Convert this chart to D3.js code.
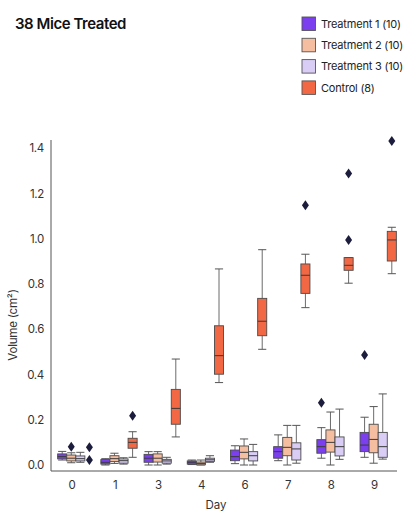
<!DOCTYPE html>
<html>
<head>
<meta charset="utf-8">
<script src="https://cdn.jsdelivr.net/npm/d3@7"></script>
<style>
  html, body { margin: 0; padding: 0; background: #fff; }
  svg { display: block; font-family: Inter, "Noto Sans", sans-serif; }
</style>
</head>
<body>
<svg id="chart" width="417" height="529"></svg>
<script>
// --- data (box stats per day: [whiskerLow, q1, median, q3, whiskerHigh]) ---
const days = ["0", "1", "3", "4", "6", "7", "8", "9"];
const seriesNames = ["Treatment 1 (10)", "Treatment 2 (10)", "Treatment 3 (10)", "Control (8)"];
const seriesColors = ["#7b3fef", "#f6bea0", "#d9cdf5", "#f26744"];
const yTicks = [0, 0.2, 0.4, 0.6, 0.8, 1.0, 1.2, 1.4];

const treatment1 = [
  [0.022, 0.027, 0.037, 0.049, 0.060],
  [0.000, 0.004, 0.012, 0.024, 0.028],
  [0.000, 0.012, 0.030, 0.047, 0.059],
  [0.002, 0.004, 0.012, 0.018, 0.022],
  [0.006, 0.019, 0.037, 0.066, 0.085],
  [0.019, 0.030, 0.059, 0.081, 0.133],
  [0.030, 0.052, 0.081, 0.112, 0.165],
  [0.034, 0.059, 0.088, 0.144, 0.211]
];
const treatment2 = [
  [0.010, 0.018, 0.030, 0.044, 0.054],
  [0.007, 0.015, 0.028, 0.041, 0.052],
  [0.000, 0.013, 0.030, 0.049, 0.059],
  [0.000, 0.001, 0.007, 0.013, 0.022],
  [0.000, 0.027, 0.056, 0.084, 0.115],
  [0.000, 0.041, 0.078, 0.122, 0.175],
  [0.000, 0.057, 0.100, 0.155, 0.234],
  [0.008, 0.054, 0.113, 0.180, 0.258]
];
const treatment3 = [
  [0.012, 0.018, 0.028, 0.040, 0.056],
  [0.004, 0.008, 0.019, 0.027, 0.032],
  [0.004, 0.008, 0.018, 0.025, 0.034],
  [0.012, 0.016, 0.023, 0.030, 0.041],
  [0.000, 0.018, 0.041, 0.059, 0.091],
  [0.008, 0.022, 0.071, 0.098, 0.175],
  [0.025, 0.040, 0.081, 0.124, 0.247],
  [0.026, 0.034, 0.081, 0.144, 0.314]
];
const control = [
  null,
  [0.034, 0.074, 0.100, 0.118, 0.147],
  [0.124, 0.180, 0.250, 0.334, 0.468],
  [0.364, 0.401, 0.483, 0.615, 0.866],
  [0.511, 0.571, 0.635, 0.736, 0.951],
  [0.695, 0.758, 0.838, 0.888, 0.931],
  [0.803, 0.860, 0.882, 0.916, 0.916],
  [0.845, 0.901, 0.994, 1.032, 1.050]
];

// outliers per series per day
const outliers1 = [[], [], [], [], [], [], [0.275], [0.486]];
const outliers2 = [[0.081], [], [], [], [], [], [], []];
const outliers3 = [[], [], [], [], [], [], [], []];
const outliersC = [[0.078, 0.022], [0.218], [], [], [], [1.147], [1.288, 0.994], [1.431]];

const stats = [treatment1, treatment2, treatment3, control];
const outs = [outliers1, outliers2, outliers3, outliersC];

// --- chart ---
const svg = d3.select("#chart");

const x = d3.scaleBand().domain(days).range([54.2, 399.8]).padding(0);
const x1 = d3.scaleBand().domain(seriesNames)
  .range([x.bandwidth() * 0.08, x.bandwidth() * 0.92]);
const y = d3.scaleLinear().domain([-0.0265, 1.4355]).range([471, 140]);

const boxes = [];
const points = [];
seriesNames.forEach((name, si) => {
  days.forEach((day, di) => {
    const s = stats[si][di];
    if (s) boxes.push({ name, day, color: seriesColors[si], lo: s[0], q1: s[1], med: s[2], q3: s[3], hi: s[4] });
    outs[si][di].forEach(v => points.push({ name, day, v }));
  });
});

const bw = x1.bandwidth();
const cx = d => x(d.day) + x1(d.name) + bw / 2;

const g = svg.append("g");
const box = g.selectAll("g.box").data(boxes).join("g").attr("class", "box");

// whiskers
box.append("line")
  .attr("x1", cx).attr("x2", cx)
  .attr("y1", d => y(d.hi)).attr("y2", d => y(d.q3))
  .attr("stroke", "#6b6b6b").attr("stroke-width", 1);
box.append("line")
  .attr("x1", cx).attr("x2", cx)
  .attr("y1", d => y(d.q1)).attr("y2", d => y(d.lo))
  .attr("stroke", "#6b6b6b").attr("stroke-width", 1);
// caps
["hi", "lo"].forEach(k => {
  box.append("line")
    .attr("x1", d => cx(d) - bw * 0.45).attr("x2", d => cx(d) + bw * 0.45)
    .attr("y1", d => y(d[k])).attr("y2", d => y(d[k]))
    .attr("stroke", "#555").attr("stroke-width", 1);
});
// box body
box.append("rect")
  .attr("x", d => x(d.day) + x1(d.name))
  .attr("width", bw)
  .attr("y", d => y(d.q3))
  .attr("height", d => Math.max(0.5, y(d.q1) - y(d.q3)))
  .attr("fill", d => d.color)
  .attr("stroke", "#4a4a4a")
  .attr("stroke-width", 0.9);
// median
box.append("line")
  .attr("x1", d => x(d.day) + x1(d.name)).attr("x2", d => x(d.day) + x1(d.name) + bw)
  .attr("y1", d => y(d.med)).attr("y2", d => y(d.med))
  .attr("stroke", "#3a3a3a").attr("stroke-width", 1);

// outliers (diamonds)
g.selectAll("path.flier").data(points).join("path")
  .attr("class", "flier")
  .attr("d", d => {
    const px = cx(d), py = y(d.v);
    return `M${px},${py - 5}L${px + 3.5},${py}L${px},${py + 5}L${px - 3.5},${py}Z`;
  })
  .attr("fill", "#1c1c3c");

// axes
const yAxis = svg.append("g")
  .attr("transform", "translate(51,0)")
  .call(d3.axisLeft(y).tickValues(yTicks).tickFormat(d3.format(".1f")).tickSize(0).tickPadding(7));
yAxis.select(".domain").remove();
yAxis.selectAll("text").attr("font-size", 11.5).attr("fill", "#333")
  .attr("letter-spacing", -0.3).attr("font-family", "Inter, sans-serif");

const xAxis = svg.append("g")
  .attr("transform", "translate(0,471)")
  .call(d3.axisBottom(x).tickSize(0).tickPadding(10));
xAxis.select(".domain").remove();
xAxis.selectAll("text").attr("font-size", 11.5).attr("fill", "#333").attr("dx", -3.6)
  .attr("font-family", "Inter, sans-serif");

svg.append("line").attr("x1", 51).attr("x2", 51).attr("y1", 140).attr("y2", 471)
  .attr("stroke", "#555").attr("stroke-width", 1);
svg.append("line").attr("x1", 51).attr("x2", 397).attr("y1", 471).attr("y2", 471)
  .attr("stroke", "#555").attr("stroke-width", 1);

svg.append("text").attr("x", 216).attr("y", 509).attr("text-anchor", "middle")
  .attr("font-size", 11.5).attr("fill", "#333").text("Day");
svg.append("text").attr("transform", "translate(17,325) rotate(-90)").attr("text-anchor", "middle")
  .attr("font-size", 11.5).attr("fill", "#333").attr("letter-spacing", -0.2).text("Volume (cm²)");

// title
svg.append("text").attr("x", 15).attr("y", 29)
  .attr("font-size", 15).attr("font-weight", 600).attr("fill", "#111")
  .attr("letter-spacing", -0.45).text("38 Mice Treated");

// legend
const legend = svg.append("g").selectAll("g").data(seriesNames).join("g")
  .attr("transform", (d, i) => `translate(302,${17 + i * 21.3})`);
legend.append("rect").attr("width", 13.5).attr("height", 13.5)
  .attr("fill", (d, i) => seriesColors[i]).attr("stroke", "#555").attr("stroke-width", 0.9);
legend.append("text").attr("x", 19).attr("y", 7).attr("dy", "0.35em")
  .attr("font-size", 11).attr("fill", "#222").attr("letter-spacing", -0.2).text(d => d);
</script>
</body>
</html>
